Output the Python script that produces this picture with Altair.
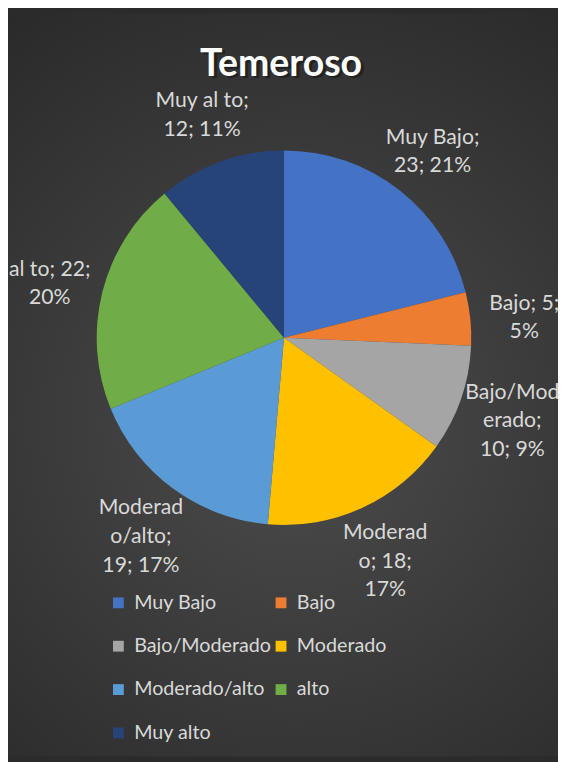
import altair as alt
import pandas as pd

categories = ["Muy Bajo", "Bajo", "Bajo/Moderado", "Moderado", "Moderado/alto", "alto", "Muy alto"]
values = [23, 5, 10, 18, 19, 22, 12]
label_texts = [
    "Muy Bajo;\n23; 21%",
    "Bajo;  5;\n5%",
    "Bajo/Mod\nerado;\n10; 9%",
    "Moderad\no; 18;\n17%",
    "Moderad\no/alto;\n19; 17%",
    "al to; 22;\n20%",
    "Muy al to;\n12; 11%",
]
colors = ["#4472C4", "#ED7D31", "#A5A5A5", "#FFC000", "#5B9BD5", "#70AD47", "#264478"]
title_text = ["Temeroso"]

W, H = 558, 754
CX, CY = 280, 329
LINE_H = 29

df = pd.DataFrame({
    "cat": categories,
    "value": values,
    "label": label_texts,
    "idx": list(range(len(categories))),
})

bg = alt.Chart(pd.DataFrame({"k": [0]})).mark_rect(
    fill=alt.RadialGradient(
        gradient="radial",
        stops=[alt.GradientStop(offset=0, color="#4c4c4c"),
               alt.GradientStop(offset=1, color="#262626")],
        x1=0.52, y1=0.55, x2=0.52, y2=0.55, r1=0, r2=0.75,
    ),
    strokeWidth=0,
).encode(x=alt.value(0), x2=alt.value(W), y=alt.value(0), y2=alt.value(H))

base = alt.Chart(df).encode(
    theta=alt.Theta("value:Q", stack=True),
    order=alt.Order("idx:Q"),
)

pie = base.mark_arc(outerRadius=190).encode(
    color=alt.Color(
        "cat:N",
        sort=categories,
        scale=alt.Scale(domain=categories, range=colors),
        legend=alt.Legend(
            orient="none", legendX=102, legendY=588, columns=2,
            direction="horizontal",
            symbolType="square", symbolSize=121, symbolStrokeWidth=0,
            labelFont="Lato", labelFontSize=20, labelColor="#d9d9d9",
            labelOffset=6, rowPadding=24, columnPadding=0, padding=0,
            title=None,
        ),
    ),
    x=alt.value(CX), y=alt.value(CY),
)

labels = base.transform_calculate(
    nl="length(split(datum.label, '\\n'))"
).mark_text(
    radius=245, font="Lato", fontSize=21.5, color="#d9d9d9",
    lineBreak="\n", lineHeight=LINE_H, align="center", baseline="middle",
    dy=alt.ExprRef(expr=f"5 - {LINE_H / 2} * (datum.nl - 1)"),
).encode(text="label:N", x=alt.value(CX), y=alt.value(CY))

tdf = pd.DataFrame({"t": title_text})
title_shadow = alt.Chart(tdf).mark_text(
    font="Lato", fontSize=38, fontWeight="bold", color="#000000", opacity=0.35,
    align="center", baseline="middle", dx=3, dy=2,
).encode(text="t:N", x=alt.value(277), y=alt.value(53))
title = alt.Chart(tdf).mark_text(
    font="Lato", fontSize=38, fontWeight="bold", color="#ffffff",
    align="center", baseline="middle",
).encode(text="t:N", x=alt.value(277), y=alt.value(53))

chart = alt.layer(bg, pie, labels, title_shadow, title).properties(
    width=W, height=H,
    autosize=alt.AutoSizeParams(type="fit", contains="padding"),
    padding=0,
    background="#2b2b2b",
).configure_view(stroke=None)

chart.save("out.html", embed_options={"renderer": "svg", "actions": False})
